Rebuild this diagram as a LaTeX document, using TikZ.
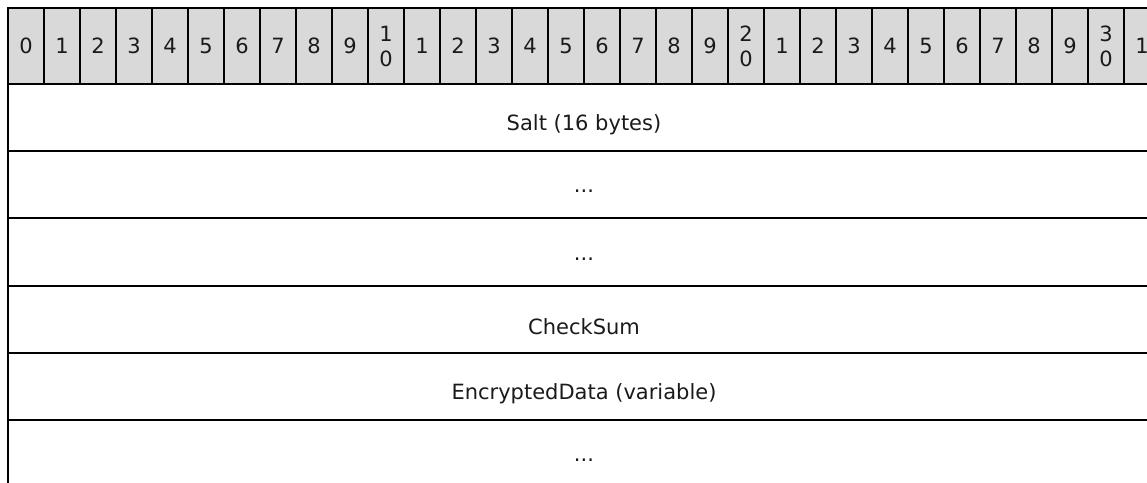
\documentclass[tikz,border=0pt]{standalone}
\usepackage{fontspec}
\setmainfont{DejaVu Sans}
\definecolor{hdrgray}{RGB}{217,217,217}
\definecolor{txt}{RGB}{26,26,26}
\begin{document}
\begin{tikzpicture}[x=1pt,y=-1pt,
  hdr/.style={draw=black, line width=2pt, fill=hdrgray, minimum width=36pt, minimum height=76pt,
    inner sep=0pt, font=\fontsize{21}{25}\selectfont, text=txt, align=center},
  rowbox/.style={draw=black, line width=2pt, minimum width=1152pt, inner sep=0pt},
  rowtext/.style={font=\fontsize{21}{25}\selectfont, text=txt, inner sep=0pt}]
\useasboundingbox (0,0) rectangle (1147,482);
\clip (0,0) rectangle (1147,482);
% rows
\node[rowbox, minimum height=66.7pt] (r1) at (584,117.35) {};
\node[rowbox, minimum height=67.3pt] (r2) at (584,184.35) {};
\node[rowbox, minimum height=68pt]   (r3) at (584,252) {};
\node[rowbox, minimum height=66.7pt] (r4) at (584,319.35) {};
\node[rowbox, minimum height=67.3pt] (r5) at (584,386.35) {};
\node[rowbox, minimum height=67pt]   (r6) at (584,453.5) {};
\node[rowtext] (t1) at ([yshift=-7pt]r1.center) {Salt (16 bytes)};
\node[rowtext] (t2) at ([yshift=-7pt]r2.center) {...};
\node[rowtext] (t3) at ([yshift=-7pt]r3.center) {...};
\node[rowtext] (t4) at ([yshift=-7pt]r4.center) {CheckSum};
\node[rowtext] (t5) at ([yshift=-7pt]r5.center) {EncryptedData (variable)};
\node[rowtext] (t6) at ([yshift=-7pt]r6.center) {...};
% header
\foreach \i in {0,...,31} {
  \pgfmathtruncatemacro{\dg}{mod(\i,10)}
  \pgfmathtruncatemacro{\tn}{div(\i,10)}
  \ifnum\i>0 \ifnum\dg=0 \def\lab{\tn\\0}\else\def\lab{\dg}\fi\else\def\lab{0}\fi
  \node[hdr] (h\i) at (26+36*\i,46) {\lab};
}
\end{tikzpicture}
\end{document}
